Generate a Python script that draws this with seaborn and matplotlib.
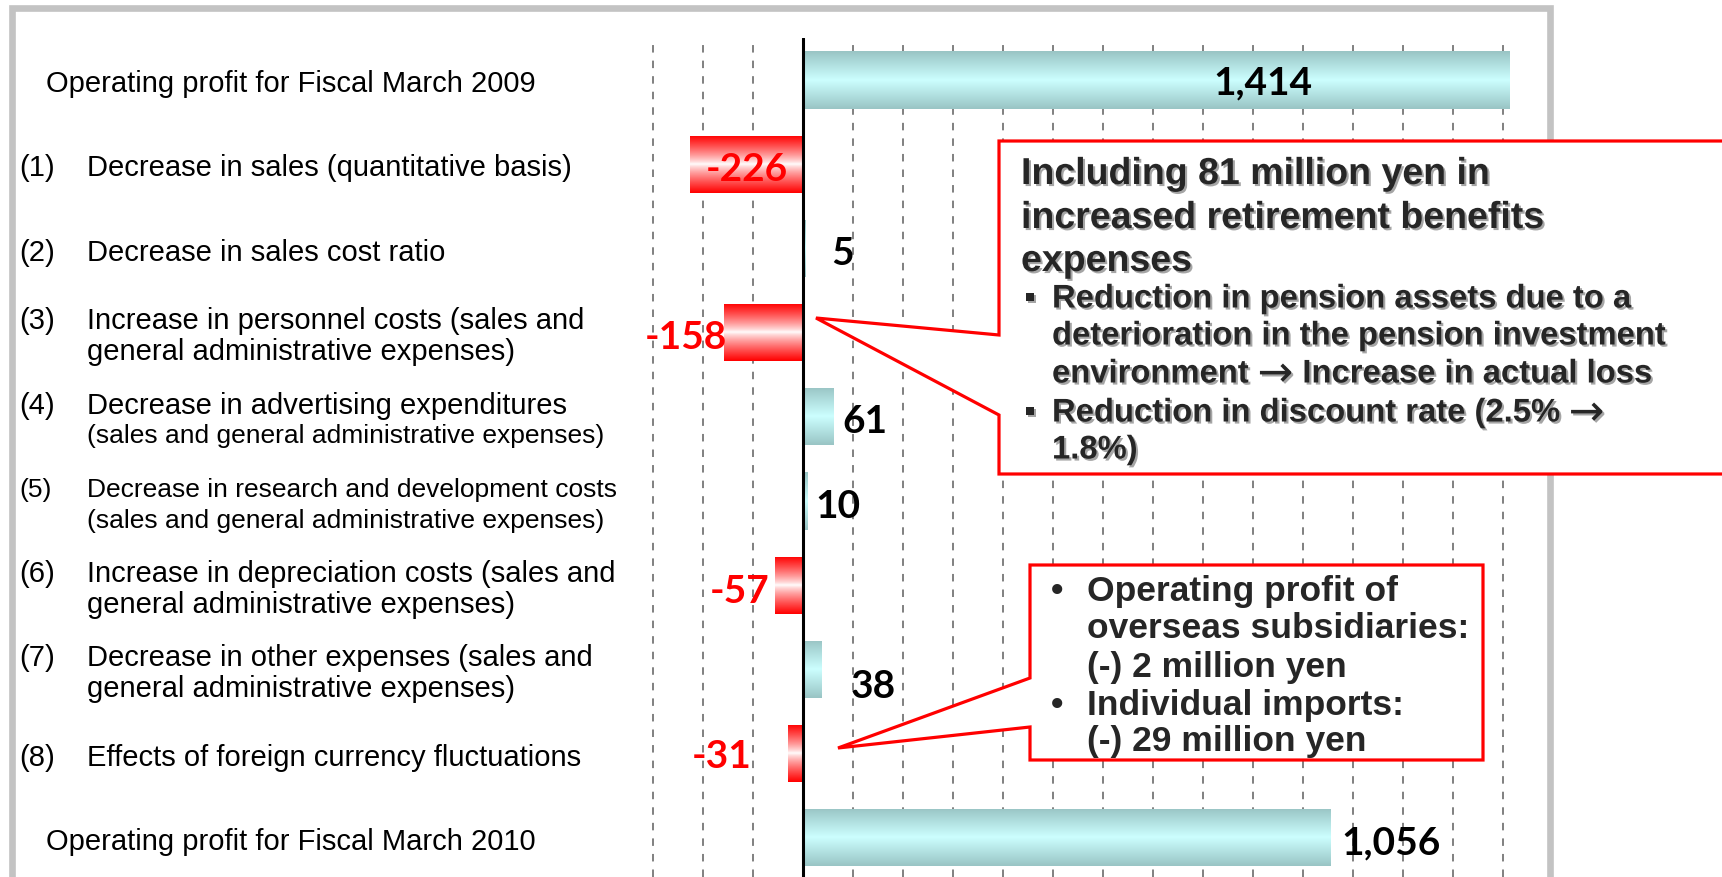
"""
Operating profit bridge: Fiscal March 2009 -> Fiscal March 2010 (horizontal bars).
"""

import matplotlib
matplotlib.use("Agg")
import matplotlib.pyplot as plt
import matplotlib.patheffects as pe
import matplotlib.transforms as mtransforms
from matplotlib.font_manager import FontProperties
from matplotlib.patches import Polygon, Rectangle
import numpy as np
import pandas as pd
import seaborn as sns

# ---- data -------------------------------------------------------------
item_numbers = ["", "(1)", "(2)", "(3)", "(4)", "(5)", "(6)", "(7)", "(8)", ""]
item_lines = [
    ["Operating profit for Fiscal March 2009"],
    ["Decrease in sales (quantitative basis)"],
    ["Decrease in sales cost ratio"],
    ["Increase in personnel costs (sales and", "general administrative expenses)"],
    ["Decrease in advertising expenditures", "(sales and general administrative expenses)"],
    ["Decrease in research and development costs", "(sales and general administrative expenses)"],
    ["Increase in depreciation costs (sales and", "general administrative expenses)"],
    ["Decrease in other expenses (sales and", "general administrative expenses)"],
    ["Effects of foreign currency fluctuations"],
    ["Operating profit for Fiscal March 2010"],
]
values = [1414, -226, 5, -158, 61, 10, -57, 38, -31, 1056]

ARROW = "\u2192"
callout1_title = ["Including 81 million yen in",
                  "increased retirement benefits",
                  "expenses"]
callout1_bullets = [["Reduction in pension assets due to a",
                     "deterioration in the pension investment",
                     f"environment {ARROW} Increase in actual loss"],
                    [f"Reduction in discount rate (2.5% {ARROW}",
                     "1.8%)"]]
callout2_bullets = [["Operating profit of",
                     "overseas subsidiaries:",
                     "(-) 2 million yen"],
                    ["Individual imports:",
                     "(-) 29 million yen"]]

# ---- layout / style -----------------------------------------------------
W, H, DPI = 1722, 877, 100
# font sizes of the label lines (small where the slide shrank the text)
line_sizes = [[21], [21], [21], [21, 21], [21, 19], [19, 19], [21, 21], [21, 21], [21], [21]]
# value label anchor (data x) and alignment
label_pos = [(920, "center"), (-30, "right"), (56, "left"), (-152, "right"), (78, "left"),
             (24, "left"), (-66, "right"), (96, "left"), (-102, "right"), (1076, "left")]
label_dy = [0.03, 0.06, 0.06, 0.06, 0.06, 0.06, 0.08, 0.2, 0.03, 0.06]


def fx(x):
    return x / W


def fy(y):
    return 1 - y / H


sns.set_style("white")
plt.rcParams["font.family"] = ["Liberation Sans", "DejaVu Sans"]
plt.rcParams["lines.scale_dashes"] = False

df = pd.DataFrame({
    "item": [" ".join(l) for l in item_lines],
    "value": values,
})
df["kind"] = np.where(df["value"] >= 0, "gain", "loss")

fig = plt.figure(figsize=(W / DPI, H / DPI), dpi=DPI)
ax = fig.add_axes([fx(620), 0, (1549 - 620) / W, (H - 38) / H])
ax.patch.set_alpha(0)

sns.barplot(data=df, x="value", y="item", hue="kind", orient="h",
            palette={"gain": "#b5e2e2", "loss": "#ff5050"}, width=0.68,
            dodge=False, errorbar=None, legend=False, linewidth=0, ax=ax)

# vertical gradient fill on each bar (cylinder look)
t = np.linspace(0, 1, 128)
f = np.abs(2 * t - 1)
teal_edge, teal_mid = np.array([0.60, 0.77, 0.77]), np.array([0.80, 1.0, 1.0])
red_edge, red_mid = np.array([1.0, 0.0, 0.0]), np.array([1.0, 1.0, 1.0])
for patch in list(ax.patches):
    bb = patch.get_bbox()
    x0, x1 = sorted([bb.x0, bb.x1])
    y0, y1 = sorted([bb.y0, bb.y1])
    if x1 - x0 <= 0:
        continue
    if bb.x1 + bb.x0 >= 0:
        grad = teal_mid * (1 - f[:, None]) + teal_edge * f[:, None]
    else:
        g = f[:, None] ** 0.8
        grad = red_mid * (1 - g) + red_edge * g
    img = ax.imshow(grad[:, None, :], extent=(x0, x1, y1, y0), aspect="auto",
                    interpolation="bilinear", zorder=patch.get_zorder() + 0.1)
    img.set_clip_path(patch)

ax.set_xlim(-366, 1492)
ax.set_ylim((H - 80) / 84.2, (38 - 80) / 84.2)
ax.set_xticks([v for v in range(-300, 1500, 100) if v != 0])
ax.set_axisbelow(True)
ax.grid(axis="x", color="#808080", linewidth=1.4, linestyle=(0, (5.4, 5.8)))
ax.grid(axis="y", visible=False)
ax.axvline(0, color="black", linewidth=2.2, zorder=4)
ax.tick_params(length=0, labelbottom=False, labelleft=False)
ax.set_xlabel("")
ax.set_ylabel("")
sns.despine(ax=ax, left=True, bottom=True)

# value labels
for i, v in enumerate(values):
    lx, ha = label_pos[i]
    ax.text(lx, i + label_dy[i], f"{v:,}", ha=ha, va="center", fontsize=28,
            fontweight="bold", family=["Lato", "DejaVu Sans"],
            color="black" if v >= 0 else "red", zorder=6)

# category labels on the left (figure x, data y)
trans = mtransforms.blended_transform_factory(fig.transFigure, ax.transData)
for i, (num, lines) in enumerate(zip(item_numbers, item_lines)):
    n = len(lines)
    for k, line in enumerate(lines):
        yy = i + 0.05 + (k - (n - 1) / 2) * 0.365
        x_text = fx(87) if num else fx(46)
        fig.text(x_text, yy, line, transform=trans, ha="left", va="center",
                 fontsize=line_sizes[i][k], color="black")
        if num and k == 0:
            fig.text(fx(19), yy, num, transform=trans, ha="left", va="center",
                     fontsize=line_sizes[i][0], color="black")

# slide frame
fig.add_artist(Rectangle((fx(11.5), fy(950)), fx(1549.5) - fx(11.5), fy(8) - fy(950),
                         transform=fig.transFigure, fill=False, edgecolor="#c3c3c3",
                         linewidth=4.8, zorder=3))

renderer = fig.canvas.get_renderer()


def put_line(x, y, line, size, **kw):
    """Write one callout line; the arrow glyph comes from DejaVu Sans, a bit larger."""
    parts = line.split(ARROW)
    cur = x
    for j, part in enumerate(parts):
        segs = [(part, "Liberation Sans", "bold", size)]
        if j < len(parts) - 1:
            segs.append((ARROW, "DejaVu Sans", "normal", size * 1.3))
        for seg, fam, wt, sz in segs:
            if not seg:
                continue
            fig.text(fx(cur), fy(y), seg, ha="left", va="center", fontsize=sz,
                     fontweight=wt, family=fam, zorder=6, **kw)
            prop = FontProperties(family=fam, weight=wt, size=sz)
            w1 = renderer.get_text_width_height_descent(seg + "|", prop, False)[0]
            w2 = renderer.get_text_width_height_descent("|", prop, False)[0]
            cur += w1 - w2


# callout 1
pts1 = [(999, 141), (1740, 141), (1740, 474), (999, 474), (999, 415), (816, 318), (999, 335)]
fig.add_artist(Polygon([(fx(x), fy(y)) for x, y in pts1], closed=True,
                       transform=fig.transFigure, facecolor="white", edgecolor="red",
                       linewidth=2.3, zorder=5))
shadow = [pe.withSimplePatchShadow(offset=(1.5, -1.5), shadow_rgbFace="#8f8f8f", alpha=0.8)]
for y, line in zip([174, 218, 261], callout1_title):
    put_line(1021, y, line, 27, path_effects=shadow)
row_y = iter([299, 336, 374, 413, 450])
for bullet in callout1_bullets:
    for k, line in enumerate(bullet):
        y = next(row_y)
        if k == 0:
            put_line(1024, y, "\u25aa", 23.6, path_effects=shadow)
        put_line(1052, y, line, 23.6, path_effects=shadow)

# callout 2
pts2 = [(1030, 565), (1483, 565), (1483, 760), (1030, 760), (1030, 727), (838, 748), (1030, 678)]
fig.add_artist(Polygon([(fx(x), fy(y)) for x, y in pts2], closed=True,
                       transform=fig.transFigure, facecolor="white", edgecolor="red",
                       linewidth=2.3, zorder=5))
row_y = iter([591, 629, 667, 706, 741])
for bullet in callout2_bullets:
    for k, line in enumerate(bullet):
        y = next(row_y)
        if k == 0:
            put_line(1051, y, "\u2022", 25.5)
        put_line(1087, y, line, 25.5)

fig.savefig("out.png", dpi=DPI)
plt.close(fig)
